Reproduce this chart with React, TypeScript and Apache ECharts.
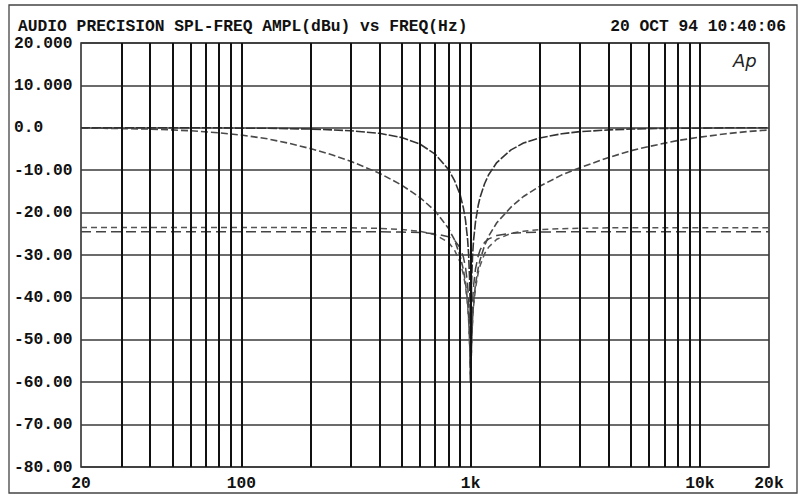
import React, { useEffect, useRef } from "react";
import * as echarts from "echarts";

const titleText = "AUDIO PRECISION SPL-FREQ AMPL(dBu) vs FREQ(Hz)";
const dateText = "20 OCT 94 10:40:06";

const xTickValues = [20, 100, 1000, 10000, 20000];
const xTickText = ["20", "100", "1k", "10k", "20k"];

const yTickValues = [20, 10, 0, -10, -20, -30, -40, -50, -60, -70, -80];
const yTickText = ["20.000", "10.000", "0.0", "-10.00", "-20.00", "-30.00", "-40.00", "-50.00", "-60.00", "-70.00", "-80.00"];

// vertical grid frequencies (log minor divisions)
const gridFreqs = [
  30, 40, 50, 60, 70, 80, 90, 100,
  200, 300, 400, 500, 600, 700, 800, 900, 1000,
  2000, 3000, 4000, 5000, 6000, 7000, 8000, 9000, 10000,
];

const freqHz = [
  20, 25, 30, 40, 50, 60, 80, 100,
  130, 160, 200, 250, 300,
  400, 500, 600, 700, 800,
  850, 900, 930, 950, 970,
  980, 990, 995, 1000, 1005,
  1010, 1020, 1030, 1050, 1080,
  1100, 1150, 1200, 1300, 1500,
  1700, 2000, 2500, 3000, 4000,
  5000, 6000, 8000, 10000, 13000,
  16000, 20000,
];

const wideNotchDb = [
  -0.1, -0.1, -0.2, -0.3, -0.5, -0.7, -1.2, -1.7,
  -2.6, -3.6, -4.9, -6.4, -7.9,
  -10.7, -13.5, -16.4, -19.6, -23.7,
  -26.4, -30.2, -33.5, -36.5, -41.0,
  -44.6, -50.5, -55.0, -60.0, -55.0,
  -50.5, -44.8, -41.3, -36.9, -33.0,
  -31.1, -27.8, -25.5, -22.4, -18.7,
  -16.2, -13.8, -11.1, -9.4, -7.0,
  -5.4, -4.4, -3.0, -2.2, -1.4,
  -0.9, -0.5,
];

const mediumNotchDb = [
  0, 0, 0, 0, 0, 0, 0, -0.1,
  -0.1, -0.2, -0.3, -0.5, -0.7,
  -1.3, -2.3, -3.8, -6.2, -9.8,
  -12.4, -15.8, -18.9, -21.8, -26.3,
  -29.8, -35.9, -41.9, -60.0, -41.9,
  -36.0, -30.0, -26.5, -22.2, -18.2,
  -16.4, -13.2, -11.0, -8.2, -5.2,
  -3.6, -2.4, -1.4, -0.9, -0.5,
  -0.3, -0.2, -0.1, -0.1, 0,
  0, 0,
];

const lowLevelNotchADb = [
  -23.5, -23.5, -23.5, -23.5, -23.5, -23.5, -23.5, -23.5,
  -23.5, -23.5, -23.6, -23.6, -23.6,
  -23.7, -24.0, -24.4, -25.2, -27.0,
  -28.8, -31.7, -34.6, -37.4, -41.9,
  -45.4, -51.4, -56.0, -60.0, -56.0,
  -51.5, -45.6, -42.1, -37.9, -34.1,
  -32.5, -29.7, -28.1, -26.3, -24.9,
  -24.4, -24.0, -23.8, -23.7, -23.6,
  -23.6, -23.6, -23.6, -23.6, -23.6,
  -23.6, -23.6,
];

const lowLevelNotchBDb = [
  -24.5, -24.5, -24.5, -24.5, -24.5, -24.5, -24.5, -24.5,
  -24.5, -24.5, -24.5, -24.5, -24.5,
  -24.5, -24.6, -24.7, -25.0, -25.7,
  -26.5, -28.3, -30.5, -32.9, -37.0,
  -40.4, -46.4, -52.0, -60.0, -52.0,
  -46.5, -40.6, -37.3, -33.3, -30.1,
  -28.8, -27.0, -26.2, -25.4, -24.9,
  -24.7, -24.6, -24.5, -24.5, -24.5,
  -24.5, -24.5, -24.5, -24.5, -24.5,
  -24.5, -24.5,
];

const FONT = "'Liberation Mono', 'DejaVu Sans Mono', monospace";

function pair(vals: number[]) {
  return freqHz.map((f, i) => [f, vals[i]]);
}

export default function App() {
  const ref = useRef<HTMLDivElement>(null);

  useEffect(() => {
    if (!ref.current) return;
    const chart = echarts.init(ref.current, undefined, { renderer: "svg" });

    const traceBase = {
      type: "line",
      showSymbol: false,
      symbol: "none",
      smooth: false,
      silent: true,
      z: 3,
    };

    const option: any = {
      animation: false,
      backgroundColor: "#ffffff",
      title: [
        {
          text: titleText,
          left: 13,
          top: 13,
          textStyle: { fontFamily: FONT, fontWeight: "bold", fontSize: 16.3, color: "#111" },
        },
        {
          text: dateText,
          right: 9,
          top: 13,
          textStyle: { fontFamily: FONT, fontWeight: "bold", fontSize: 16.3, color: "#111" },
        },
      ],
      grid: {
        left: 81,
        right: 31,
        top: 43,
        bottom: 29,
        show: true,
        borderColor: "#222",
        borderWidth: 1.5,
        backgroundColor: "transparent",
      },
      xAxis: {
        type: "log",
        logBase: 10,
        min: 20,
        max: 20000,
        axisLine: { show: false },
        axisTick: { show: false },
        splitLine: { show: false },
        axisLabel: {
          customValues: xTickValues,
          margin: 8,
          fontFamily: FONT,
          fontWeight: "bold",
          fontSize: 16.3,
          color: "#111",
          formatter: (v: number) => {
            for (let i = 0; i < xTickValues.length; i++) {
              if (Math.abs(Math.log10(v) - Math.log10(xTickValues[i])) < 0.01) return xTickText[i];
            }
            return "";
          },
        },
      },
      yAxis: {
        type: "value",
        min: -80,
        max: 20,
        interval: 10,
        axisLine: { show: false },
        axisTick: { show: false },
        splitLine: { show: true, lineStyle: { color: "#3a3a3a", width: 1.5 } },
        axisLabel: {
          align: "left",
          margin: 67,
          padding: [4, 0, 0, 0],
          fontFamily: FONT,
          fontWeight: "bold",
          fontSize: 16.3,
          color: "#111",
          formatter: (v: number) => {
            const i = yTickValues.indexOf(Math.round(v));
            return i >= 0 ? yTickText[i] : "";
          },
        },
      },
      series: [
        {
          type: "line",
          data: [],
          silent: true,
          z: 1,
          markLine: {
            silent: true,
            symbol: ["none", "none"],
            label: { show: false },
            lineStyle: { color: "#111", width: 2, type: "solid" },
            data: gridFreqs.map((f) => ({ xAxis: f })),
          },
        },
        {
          ...traceBase,
          name: "wide",
          data: pair(wideNotchDb),
          lineStyle: { color: "#4a4a4a", width: 1.6, type: [7, 3] },
        },
        {
          ...traceBase,
          name: "medium",
          data: pair(mediumNotchDb),
          lineStyle: { color: "#333", width: 1.6, type: [9, 2] },
        },
        {
          ...traceBase,
          name: "lowA",
          data: pair(lowLevelNotchADb),
          lineStyle: { color: "#555", width: 1.5, type: [6, 4] },
        },
        {
          ...traceBase,
          name: "lowB",
          data: pair(lowLevelNotchBDb),
          lineStyle: { color: "#444", width: 1.5, type: [10, 5] },
        },
      ],
      graphic: [
        {
          type: "rect",
          shape: { x: 9, y: 5, width: 788, height: 488 },
          style: { fill: "none", stroke: "#444", lineWidth: 1.3 },
          silent: true,
        },
        {
          type: "text",
          x: 733,
          y: 51,
          style: {
            text: "Ap",
            fontFamily: "'DejaVu Sans', sans-serif",
            fontStyle: "italic",
            fontSize: 18,
            fill: "#222",
          },
          silent: true,
        },
      ],
    };

    chart.setOption(option);
    return () => chart.dispose();
  }, []);

  return (
    <div
      ref={ref}
      style={{ position: "fixed", left: 0, top: 0, width: 800, height: 496, background: "#fff" }}
    />
  );
}
